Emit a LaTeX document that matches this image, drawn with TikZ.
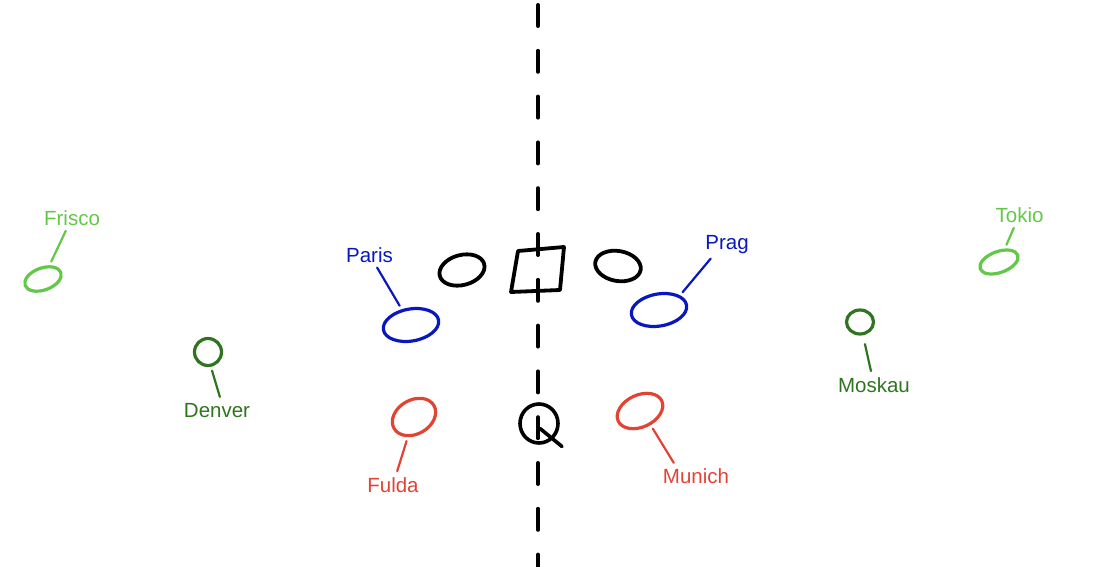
\documentclass[tikz,border=0pt]{standalone}
\usepackage{fontspec}
\setmainfont{Liberation Sans}
\usetikzlibrary{shapes.geometric, calc}
\definecolor{lightgrn}{RGB}{99,199,71}
\definecolor{darkgrn}{RGB}{47,117,32}
\definecolor{blu}{RGB}{8,24,190}
\definecolor{rd}{RGB}{226,68,52}

\begin{document}
\begin{tikzpicture}[x=1pt, y=-1pt, line join=round, line cap=round,
    city/.style={ellipse, draw, inner sep=0pt, line width=3.2pt},
    lbl/.style={font=\fontsize{20.5}{24}\selectfont, inner sep=0pt, anchor=base},
    link/.style={line width=2.2pt, shorten <=6pt, shorten >=4pt}]
  \useasboundingbox (0,0) rectangle (1102,567);
  % divider
  \coordinate (T) at (538,5);
  \coordinate (B) at (538,567);
  \draw[line width=4pt, dash pattern=on 21pt off 24.8pt] (T) -- (B);
  % box and Q on the divider
  \draw[line width=3.8pt] (518,251) -- (564,247) -- (560,290) -- (511,292) -- cycle;
  \node[city, line width=3.6pt, minimum width=38pt, minimum height=39pt] (Q) at (539,423.5) {};
  \draw[line width=3.6pt] ($(Q.center)+(1,5)$) -- ($(Q.center)+(23,23)$);
  % black ovals
  \node[city, line width=3.8pt, minimum width=46pt, minimum height=30pt, rotate=15] (ovalL) at (462,270) {};
  \node[city, line width=3.8pt, minimum width=46pt, minimum height=30pt, rotate=-10] (ovalR) at (618,266) {};
  % far cities
  \node[city, draw=lightgrn, minimum width=38pt, minimum height=22pt, rotate=20] (frisco) at (43,279) {};
  \node[lbl, text=lightgrn] (friscoL) at (72,225) {Frisco};
  \draw[link, lightgrn] (friscoL) -- (frisco);
  \node[city, draw=lightgrn, minimum width=40pt, minimum height=21pt, rotate=20] (tokio) at (999,262) {};
  \node[lbl, text=lightgrn] (tokioL) at (1019.5,222) {Tokio};
  \draw[link, lightgrn] (tokioL) -- (tokio);
  \node[city, draw=darkgrn, minimum width=27pt, minimum height=27pt] (denver) at (208,352) {};
  \node[lbl, text=darkgrn] (denverL) at (217,417) {Denver};
  \draw[link, darkgrn] (denverL.58) -- (denver.-79);
  \node[city, draw=darkgrn, minimum width=27pt, minimum height=24pt] (moskau) at (860,322) {};
  \node[lbl, text=darkgrn] (moskauL) at (874,392) {Moskau};
  \draw[link, darkgrn, shorten >=9pt] (moskauL) -- (moskau);
  % near cities
  \node[city, draw=blu, minimum width=56pt, minimum height=32pt, rotate=10] (paris) at (411,325) {};
  \node[lbl, text=blu] (parisL) at (369.5,262) {Paris};
  \draw[link, blu] (parisL) -- (paris);
  \node[city, draw=blu, minimum width=56pt, minimum height=32pt, rotate=10] (prag) at (659,310) {};
  \node[lbl, text=blu] (pragL) at (727,249.5) {Prag};
  \draw[link, blu] (pragL.217) -- (prag.25);
  \node[city, draw=rd, minimum width=46pt, minimum height=34pt, rotate=30] (fulda) at (414,417) {};
  \node[lbl, text=rd] (fuldaL) at (393,492) {Fulda};
  \draw[link, rd] (fuldaL) -- (fulda);
  \node[city, draw=rd, minimum width=48pt, minimum height=32pt, rotate=25] (munich) at (640,411) {};
  \node[lbl, text=rd] (munichL) at (696,483) {Munich};
  \draw[link, rd] (munichL.158) -- (munich.-78);
\end{tikzpicture}
\end{document}
